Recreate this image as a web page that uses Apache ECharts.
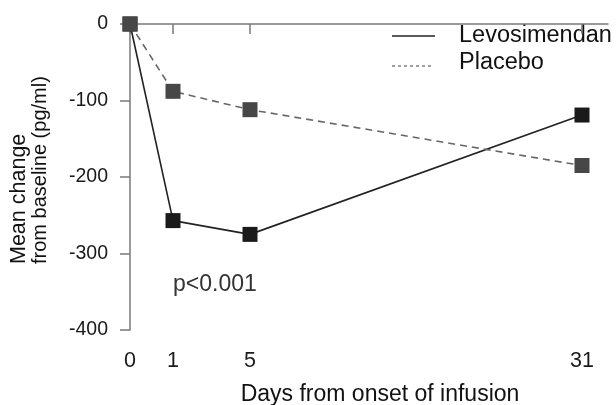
<!DOCTYPE html>
<html><head><meta charset="utf-8">
<script src="https://cdn.jsdelivr.net/npm/echarts@6/dist/echarts.min.js"></script>
<style>html,body{margin:0;padding:0;background:#fff}#c{width:616px;height:405px}</style>
</head><body><div id="c"></div>
<script>
// ---- data ----
const dayTicks = [0, 1, 5, 31];
const levosimendan = [0, -257, -275, -119];
const placebo = [0, -88, -112, -185];
const yTicks = [0, -100, -200, -300, -400];
const seriesNames = ['Levosimendan', 'Placebo'];
const xTitle = 'Days from onset of infusion';
const yTitle = ['Mean change', 'from baseline (pg/ml)'];
const note = 'p<0.001';

// ---- layout: the original x axis is unevenly spaced; map days onto drawing slots ----
const daySlots = [0, 43, 120, 452];
const slotMax = 478;
function dayToSlot(d) {
  for (let i = 0; i < dayTicks.length - 1; i++) {
    if (d <= dayTicks[i + 1]) {
      const t = (d - dayTicks[i]) / (dayTicks[i + 1] - dayTicks[i]);
      return daySlots[i] + t * (daySlots[i + 1] - daySlots[i]);
    }
  }
  return daySlots[daySlots.length - 1];
}
const FONT = 'Liberation Sans, Arial, sans-serif';

const chart = echarts.init(document.getElementById('c'), null, {renderer: 'canvas'});
const axisGray = '#7a7a7a';
chart.setOption({
  animation: false,
  backgroundColor: '#fff',
  grid: {left: 130, right: 8, top: 24, bottom: 75},
  xAxis: {
    type: 'value', min: 0, max: slotMax,
    axisLine: {show: true, lineStyle: {color: axisGray, width: 1.5}},
    axisTick: {show: true, length: 10, inside: false, customValues: daySlots, lineStyle: {color: axisGray, width: 1.5}},
    axisLabel: {customValues: daySlots, margin: 20, color: '#1a1a1a', fontSize: 21.5, fontFamily: FONT,
      formatter: v => String(dayTicks[daySlots.indexOf(v)])},
    splitLine: {show: false}
  },
  yAxis: {
    type: 'value', min: -400, max: 0, interval: 100,
    axisLine: {show: true, lineStyle: {color: axisGray, width: 1.5}},
    axisTick: {show: true, length: 10, lineStyle: {color: axisGray, width: 1.5}},
    axisLabel: {margin: 22, color: '#1a1a1a', fontSize: 19.5, fontFamily: FONT,
      formatter: v => yTicks.includes(v) ? String(v) : ''},
    splitLine: {show: false}
  },
  series: [
    {
      name: seriesNames[0], type: 'line', z: 3,
      data: dayTicks.map((d, i) => [dayToSlot(d), levosimendan[i]]),
      symbol: 'rect', symbolSize: 15,
      itemStyle: {color: '#1a1a1a'},
      lineStyle: {color: '#222', width: 1.6, type: 'solid'}
    },
    {
      name: seriesNames[1], type: 'line', z: 4,
      data: dayTicks.map((d, i) => [dayToSlot(d), placebo[i]]),
      symbol: 'rect', symbolSize: 15,
      itemStyle: {color: '#474747'},
      lineStyle: {color: '#666', width: 1.6, type: [7, 5]}
    }
  ],
  graphic: [
    // legend
    {type: 'line', shape: {x1: 392, y1: 36, x2: 435, y2: 36}, style: {stroke: '#222', lineWidth: 1.6}},
    {type: 'text', x: 459, y: 36, style: {text: seriesNames[0], font: '23.5px ' + FONT, fill: '#111', verticalAlign: 'middle', align: 'left'}},
    {type: 'line', shape: {x1: 392, y1: 66, x2: 432, y2: 66}, style: {stroke: '#777', lineWidth: 1.4, lineDash: [3, 3]}},
    {type: 'text', x: 459, y: 63, style: {text: seriesNames[1], font: '23.5px ' + FONT, fill: '#111', verticalAlign: 'middle', align: 'left'}},
    // note
    {type: 'text', x: 173, y: 285, style: {text: note, font: '23px ' + FONT, fill: '#333', verticalAlign: 'middle', align: 'left'}},
    // x title
    {type: 'text', x: 380, y: 395, style: {text: xTitle, font: '23px ' + FONT, fill: '#111', verticalAlign: 'middle', align: 'center'}},
    // y title (rotated, two lines)
    {type: 'text', x: 19, y: 264, rotation: Math.PI / 2, style: {text: yTitle[0], font: '21.5px ' + FONT, fill: '#111', verticalAlign: 'middle', align: 'left'}},
    {type: 'text', x: 40, y: 264, rotation: Math.PI / 2, style: {text: yTitle[1], font: '20px ' + FONT, fill: '#111', verticalAlign: 'middle', align: 'left'}}
  ]
});
</script></body></html>
